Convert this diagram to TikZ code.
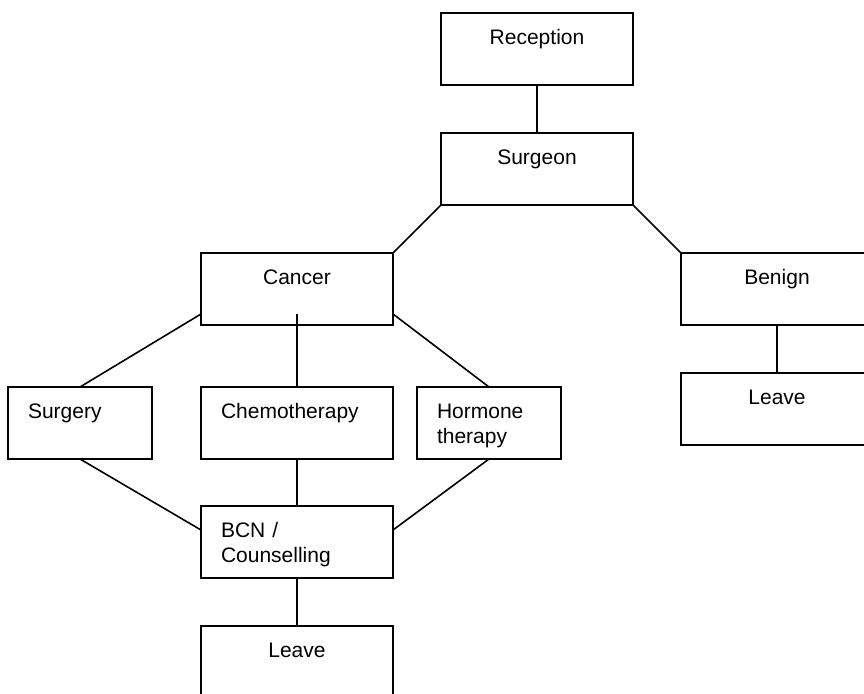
\documentclass[tikz,border=0pt]{standalone}
\usepackage{fontspec}
\setmainfont{Liberation Sans}
\begin{document}
\begin{tikzpicture}[x=0.75pt,y=-0.75pt,line width=1.2pt,
        box/.style={draw,rectangle,anchor=north west,outer sep=0pt,inner xsep=15pt,inner ysep=0pt,
            text width=114pt,align=center,text height=23.25pt,text depth=30.75pt,
            font=\fontsize{15.75pt}{18.75pt}\selectfont},
        leftbox/.style={box,align=left},
        narrow/.style={text width=78pt}]
        \fill[white] (0,0) rectangle (864,693);
        \useasboundingbox (0,0) rectangle (864,693);
        \clip (0,0) rectangle (864,693);

        \node[box] (reception) at (441,13) {Reception};
        \node[box] (surgeon) at (441,133) {Surgeon};
        \node[box] (cancer) at (201,253) {Cancer};
        \node[box] (benign) at (681,253) {Benign};
        \node[box] (leaveB) at (681,373) {Leave};

        \node[leftbox,narrow] (surgery) at (8,387) {Surgery};
        \node[leftbox] (chemo) at (201,387) {Chemotherapy};
        \node[leftbox,narrow] (hormone) at (417,387) {Hormone\\therapy};
        \node[leftbox] (bcn) at (201,506) {BCN /\\Counselling};
        \node[box] (leaveC) at (201,626) {Leave};

        \draw (reception.south) -- (surgeon.north);
        \draw (surgeon.south west) -- (cancer.north east);
        \draw (surgeon.south east) -- (benign.north west);
        \draw (benign.south) -- (leaveB.north);

        \draw ([yshift=8.25pt]cancer.south west) -- (surgery.north);
        \draw ([yshift=8.25pt]cancer.south) -- (chemo.north);
        \draw ([yshift=8.25pt]cancer.south east) -- (hormone.north);

        \draw (surgery.south) -- ([yshift=-18pt]bcn.north west);
        \draw (chemo.south) -- (bcn.north);
        \draw (hormone.south) -- ([yshift=-18pt]bcn.north east);
        \draw (bcn.south) -- (leaveC.north);
\end{tikzpicture}
\end{document}
